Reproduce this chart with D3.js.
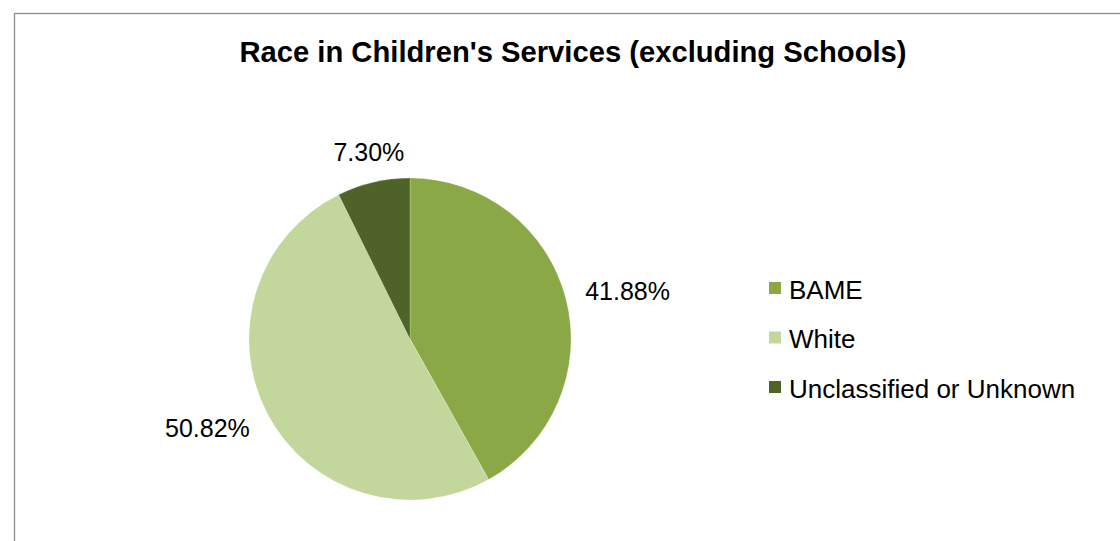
<!DOCTYPE html>
<html>
<head>
<meta charset="utf-8">
<script src="https://cdn.jsdelivr.net/npm/d3@7"></script>
<style>
  html, body { margin: 0; padding: 0; background: #fff; }
  svg { display: block; font-family: "Liberation Sans", Arial, sans-serif; }
</style>
</head>
<body>
<svg id="chart" width="1120" height="541"></svg>
<script>
// Share of staff by race in Children's Services (excluding Schools)
const categories = ["BAME", "White", "Unclassified or Unknown"];
const shares = [41.88, 50.82, 7.30];
const sliceColors = ["#8aa946", "#c3d69b", "#4f6228"];
const chartTitle = "Race in Children's Services (excluding Schools)";

const W = 1120, H = 541;
const svg = d3.select("#chart");

// chart area frame (left and top edges visible)
svg.append("rect")
  .attr("x", 14.5).attr("y", 13.5)
  .attr("width", W + 10).attr("height", H + 10)
  .attr("fill", "#fff")
  .attr("stroke", "#8c8c8c")
  .attr("stroke-width", 1.3);

// title
svg.append("text")
  .attr("x", 573).attr("y", 62)
  .attr("text-anchor", "middle")
  .attr("font-size", 29.2)
  .attr("font-weight", "bold")
  .attr("fill", "#000")
  .text(chartTitle);

// pie
const cx = 410, cy = 339, radius = 161;
const data = categories.map((c, i) => ({ name: c, value: shares[i], color: sliceColors[i] }));

const pie = d3.pie().value(d => d.value).sort(null);
const arcs = pie(data);
const arc = d3.arc().innerRadius(0).outerRadius(radius);
// labels sit on a slightly taller ring around the pie
const labelR = 181, labelStretchY = 192 / 181;
const labelArc = d3.arc().innerRadius(labelR).outerRadius(labelR);

const g = svg.append("g").attr("transform", `translate(${cx},${cy})`);

g.selectAll("path.slice")
  .data(arcs)
  .join("path")
  .attr("class", "slice")
  .attr("d", arc)
  .attr("fill", d => d.data.color)
  .attr("stroke", "#ffffff")
  .attr("stroke-opacity", 0.35)
  .attr("stroke-width", 0.6);

// value labels outside the slices
g.selectAll("text.val")
  .data(arcs)
  .join("text")
  .attr("class", "val")
  .attr("transform", d => {
    const [x, y] = labelArc.centroid(d);
    return `translate(${x},${y * labelStretchY})`;
  })
  .attr("dy", "0.36em")
  .attr("text-anchor", d => {
    const mid = (d.startAngle + d.endAngle) / 2;
    const s = Math.sin(mid);
    if (Math.abs(s) < 0.5) return "middle";
    return s > 0 ? "start" : "end";
  })
  .attr("font-size", 25)
  .attr("fill", "#000")
  .text(d => d.data.value.toFixed(2) + "%");

// legend
const legend = svg.append("g").attr("transform", "translate(769,288)");
const items = legend.selectAll("g")
  .data(data)
  .join("g")
  .attr("transform", (d, i) => `translate(0,${i * 49.5})`);

items.append("rect")
  .attr("x", 0).attr("y", -6)
  .attr("width", 12).attr("height", 12)
  .attr("fill", d => d.color);

items.append("text")
  .attr("x", 20).attr("y", 10.5)
  .attr("font-size", 26)
  .attr("fill", "#000")
  .text(d => d.name);
</script>
</body>
</html>
